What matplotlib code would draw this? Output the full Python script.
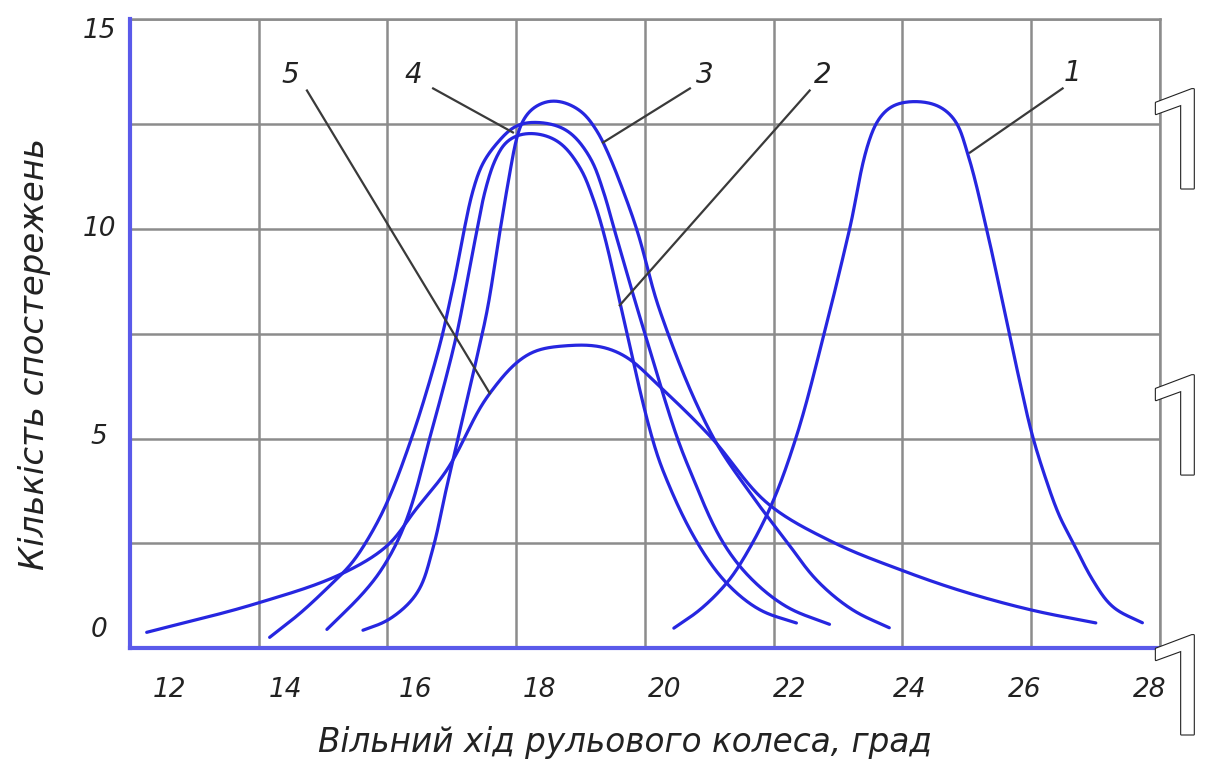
import numpy as np
import matplotlib
matplotlib.use('Agg')
import matplotlib.pyplot as plt
import matplotlib.patheffects as pe

curve1_x = [20.45, 20.85, 21.27, 21.49, 21.95, 22.35, 22.77, 23.18, 23.50, 23.65, 23.85, 24.23, 24.58,
            24.82, 25.00, 25.31, 25.66, 25.83, 26.01, 26.22, 26.45, 26.65, 26.96, 27.27, 27.74]
curve1_y = [0.48, 0.91, 1.55, 2.03, 3.36, 5.03, 7.41, 9.99, 12.18, 12.66, 12.94, 13.04, 12.92,
            12.59, 11.87, 9.99, 7.51, 6.32, 5.13, 4.08, 3.12, 2.53, 1.62, 0.98, 0.60]

curve2_x = [15.06, 15.62, 15.88, 16.15, 16.35, 16.66, 16.90, 17.08, 17.25, 17.39, 17.52, 17.69, 17.87,
            18.17, 18.63, 18.99, 19.19, 19.35, 19.64, 20.11, 20.28, 20.81, 21.27, 21.79, 22.36]
curve2_y = [0.45, 1.31, 1.81, 2.53, 3.29, 5.03, 6.39, 7.51, 8.84, 9.96, 10.92, 11.70, 12.11,
            12.28, 12.11, 11.47, 10.75, 9.96, 8.06, 5.03, 4.24, 2.53, 1.55, 0.91, 0.60]

curve3_x = [15.62, 16.01, 16.46, 16.70, 16.90, 17.10, 17.38, 17.55, 17.75, 17.90, 18.00, 18.09, 18.25, 18.57,
            18.99, 19.25, 19.41, 19.66, 19.88, 20.23, 21.06, 21.66, 22.21, 22.67, 23.23, 23.81]
curve3_y = [0.43, 0.67, 1.31, 2.34, 3.70, 5.03, 6.87, 8.06, 9.96, 11.32, 12.11, 12.54, 12.87, 13.06,
            12.83, 12.35, 11.87, 10.92, 9.96, 8.06, 5.03, 3.65, 2.53, 1.62, 0.91, 0.48]

curve4_x = [14.17, 14.64, 15.11, 15.42, 15.62, 15.96, 16.38, 16.66, 16.86, 16.94, 17.05, 17.19, 17.33, 17.48,
            17.70, 18.01, 18.37, 18.79, 19.15, 19.35, 19.53, 19.89, 20.00, 20.50, 20.70, 21.21, 21.63, 22.21,
            22.87]
curve4_y = [0.26, 0.83, 1.50, 1.98, 2.41, 3.36, 5.03, 6.39, 7.51, 8.06, 8.84, 9.96, 10.92, 11.56,
            12.04, 12.47, 12.54, 12.35, 11.70, 10.92, 9.96, 8.06, 7.51, 5.03, 4.24, 2.53, 1.69, 0.98,
            0.57]

curve5_x = [12.26, 13.97, 15.31, 16.01, 16.43, 16.92, 17.59, 18.21, 18.83, 19.35, 19.72, 20.19,
            21.03, 21.90, 22.92, 23.99, 24.89, 26.01, 27.02]
curve5_y = [0.38, 1.07, 1.79, 2.46, 3.29, 4.24, 6.08, 7.03, 7.22, 7.18, 6.94, 6.30,
            5.03, 3.46, 2.53, 1.86, 1.38, 0.91, 0.60]

# curve numbers: label position and the point the leader line touches
curve_names = ['1', '2', '3', '4', '5']
name_x = [26.65, 22.77, 20.93, 16.40, 14.49]
name_y = [13.71, 13.66, 13.66, 13.66, 13.66]
leader_start_x = [26.49, 22.56, 20.70, 16.71, 14.75]
leader_start_y = [13.35, 13.30, 13.35, 13.35, 13.30]
leader_end_x = [25.05, 19.61, 19.35, 17.95, 17.59]
leader_end_y = [11.82, 8.18, 12.06, 12.30, 6.08]

x_grid = [12, 14, 16, 18, 20, 22, 24, 26, 28]
y_grid = [0, 2.5, 5, 7.5, 10, 12.5, 15]
x_tick_labels = ['12', '14', '16', '18', '20', '22', '24', '26', '28']
x_tick_pos = [12.62, 14.41, 16.43, 18.37, 20.31, 22.25, 24.12, 25.90, 27.84]
y_tick_labels = ['0', '5', '10', '15']
y_tick_pos = [0.43, 5.03, 10.0, 14.73]

CURVE_COLOR = '#2626e0'
AXIS_COLOR = '#5a5aea'
GRID_COLOR = '#8c8c8c'
FONT = 'DejaVu Sans'
MARK_FONT = ['Roboto', 'DejaVu Sans']


def smooth_curve(ax, xs, ys, sigma=6.0):
  # hand-drawn look: bezier through the read points (tangents bisect the
  # neighbouring chords), then a light gaussian pass along the arc, in pixels
  pts = ax.transData.transform(np.column_stack([xs, ys]))
  chords = np.diff(pts, axis=0)
  lens = np.hypot(chords[:, 0], chords[:, 1])
  units = chords / lens[:, None]
  tang = np.zeros_like(pts)
  tang[0] = units[0]
  tang[-1] = units[-1]
  summed = units[:-1] + units[1:]
  tang[1:-1] = summed / np.hypot(summed[:, 0], summed[:, 1])[:, None]
  t = np.linspace(0, 1, 25)[:, None]
  dense = []
  for i in range(len(pts) - 1):
    p0, p3 = pts[i], pts[i + 1]
    p1 = p0 + tang[i] * lens[i] / 3.0
    p2 = p3 - tang[i + 1] * lens[i] / 3.0
    seg = (1 - t) ** 3 * p0 + 3 * (1 - t) ** 2 * t * p1 + 3 * (1 - t) * t ** 2 * p2 + t ** 3 * p3
    dense.append(seg if i == 0 else seg[1:])
  dense = np.vstack(dense)
  step = np.hypot(*np.diff(dense, axis=0).T)
  s = np.concatenate([[0], np.cumsum(step)])
  su = np.arange(0, s[-1], 1.0)
  line = np.column_stack([np.interp(su, s, dense[:, 0]), np.interp(su, s, dense[:, 1])])
  k = int(3 * sigma)
  kern = np.exp(-0.5 * (np.arange(-k, k + 1) / sigma) ** 2)
  kern /= kern.sum()
  head = 2 * line[0] - line[1:k + 1][::-1]
  tail = 2 * line[-1] - line[-k - 1:-1][::-1]
  padded = np.vstack([head, line, tail])
  sm = np.column_stack([np.convolve(padded[:, 0], kern, mode='valid'),
                        np.convolve(padded[:, 1], kern, mode='valid')])
  return ax.transData.inverted().transform(sm)


fig = plt.figure(figsize=(12.26, 7.69), dpi=100)
ax = fig.add_axes([0.106, 0.157, 0.840, 0.818])
ax.set_xlim(12, 28)
ax.set_ylim(0, 15)

ax.set_xticks(x_grid)
ax.set_yticks(y_grid)
ax.tick_params(length=0, labelbottom=False, labelleft=False)
ax.grid(True, color=GRID_COLOR, lw=1.8)
ax.set_axisbelow(True)
for side in ['top', 'right']:
  ax.spines[side].set_color(GRID_COLOR)
  ax.spines[side].set_linewidth(1.8)
for side in ['left', 'bottom']:
  ax.spines[side].set_color(AXIS_COLOR)
  ax.spines[side].set_linewidth(3)
  ax.spines[side].set_zorder(5)

for xs, ys in [(curve1_x, curve1_y), (curve2_x, curve2_y), (curve3_x, curve3_y),
               (curve4_x, curve4_y), (curve5_x, curve5_y)]:
  sm = smooth_curve(ax, xs, ys)
  ax.plot(sm[:, 0], sm[:, 1], color=CURVE_COLOR, lw=2.3, solid_capstyle='round', zorder=3)

for i in range(len(curve_names)):
  ax.plot([leader_start_x[i], leader_end_x[i]], [leader_start_y[i], leader_end_y[i]],
          color='#3a3a3a', lw=1.6, zorder=4)
  ax.text(name_x[i], name_y[i], curve_names[i], fontsize=20, fontstyle='italic',
          family=FONT, ha='center', va='center', color='#222222')

xt = ax.get_xaxis_transform()
for pos, lab in zip(x_tick_pos, x_tick_labels):
  ax.text(pos, -0.067, lab, transform=xt, fontsize=19, fontstyle='italic',
          family=FONT, ha='center', va='center', color='#222222')
yt = ax.get_yaxis_transform()
for pos, lab in zip(y_tick_pos, y_tick_labels):
  ax.text(-0.03, pos, lab, transform=yt, fontsize=19, fontstyle='italic',
          family=FONT, ha='center', va='center', color='#222222')

fig.text(0.51, 0.035, 'Вільний хід рульового колеса, град', fontsize=23.5,
         fontstyle='italic', family=FONT, ha='center', va='center', color='#222222')
fig.text(0.028, 0.54, 'Кількість спостережень', fontsize=24.5, rotation=90,
         fontstyle='italic', family=FONT, ha='center', va='center', color='#222222')

# outlined "1" marks in the right margin of the scan
for yc in [0.805, 0.433, 0.095]:
  fig.text(0.997, yc, '1', fontsize=100, family=MARK_FONT, ha='right', va='center',
           color='white',
           path_effects=[pe.withStroke(linewidth=1.6, foreground='#222222')])

fig.savefig('out.png', dpi=100, facecolor='white')
